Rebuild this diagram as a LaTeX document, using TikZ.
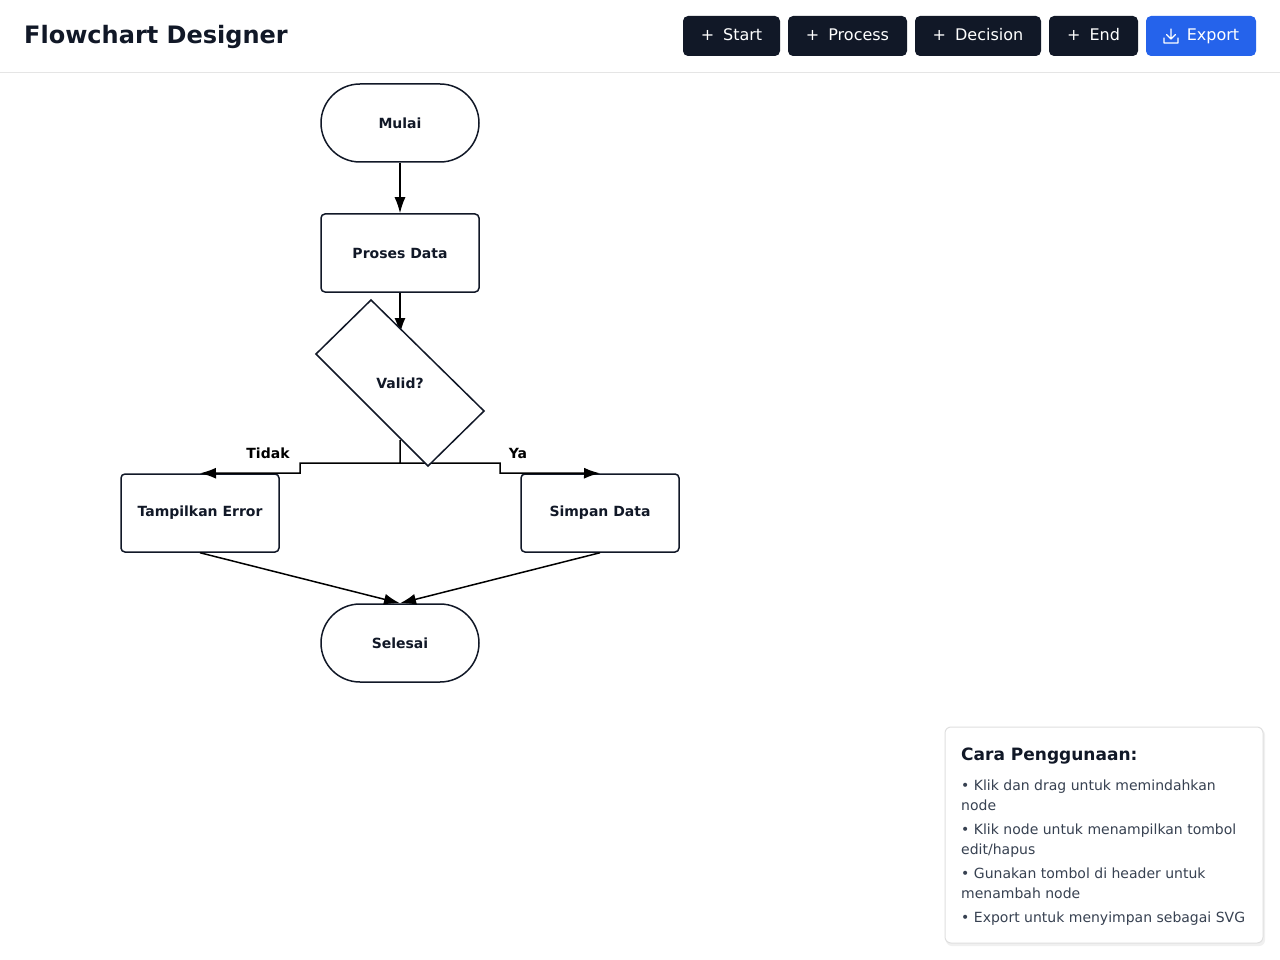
\documentclass[tikz,border=0pt]{standalone}
\usepackage{fontspec}
\setmainfont{DejaVu Sans}
\usetikzlibrary{arrows.meta}
\definecolor{ink}{HTML}{111827}
\definecolor{btn}{HTML}{111827}
\definecolor{blue}{HTML}{2563EB}
\definecolor{txt}{HTML}{374151}
\tikzset{
  term/.style={rectangle,rounded corners=39pt,draw=ink,line width=1.5pt,fill=white,minimum width=158pt,minimum height=78pt,font=\fontsize{14}{16}\selectfont\bfseries,text=ink},
  proc/.style={rectangle,rounded corners=4pt,draw=ink,line width=1.5pt,fill=white,minimum width=158pt,minimum height=78pt,font=\fontsize{14}{16}\selectfont\bfseries,text=ink},
  conn/.style={line width=1.5pt,-{Latex[length=16pt,width=11pt]}},
  lab/.style={font=\fontsize{14}{16}\selectfont\bfseries},
  button/.style={rounded corners=5pt,fill=btn,text=white,minimum height=40pt,text height=12pt,text depth=3pt,font=\fontsize{16}{18}\selectfont,inner sep=0pt},
  help/.style={font=\fontsize{14}{16}\selectfont,text=txt,anchor=base west,inner sep=0pt},
}
\begin{document}
\begin{tikzpicture}[x=1pt,y=-1pt]
\useasboundingbox (0,0) rectangle (1280,960);
\fill[white] (0,0) rectangle (1280,960);
% header
\node[anchor=base west,font=\fontsize{24}{28}\selectfont\bfseries,text=ink,inner sep=0pt] (title) at (24,44) {Flowchart Designer};
\draw[gray!20,line width=1pt] (0,72.5) -- (1280,72.5);
\node[button,minimum width=97pt] (bstart) at (731.5,36) {+\hspace{9pt}Start};
\node[button,minimum width=119pt] (bproc) at (847.5,36) {+\hspace{9pt}Process};
\node[button,minimum width=126pt] (bdec) at (978,36) {+\hspace{9pt}Decision};
\node[button,minimum width=89pt] (bend) at (1093.5,36) {+\hspace{9pt}End};
\node[button,fill=blue,minimum width=110pt] (bexp) at (1201,36) {\hspace{24pt}Export};
\draw[white,line width=1.3pt,line cap=round,line join=round] (1171,29) -- (1171,39) (1166.5,34.5) -- (1171,39) -- (1175.5,34.5) (1164,38) -- (1164,43) -- (1178,43) -- (1178,38);
% nodes
\node[term] (mulai) at (400,123) {Mulai};
\node[proc] (proses) at (400,253) {Proses Data};
\node[proc] (err) at (200,513) {Tampilkan Error};
\node[proc] (simpan) at (600,513) {Simpan Data};
\node[term] (selesai) at (400,643) {Selesai};
\coordinate (dtop) at (400,334);
\coordinate (dbot) at (400,440);
\coordinate (split) at (400,463);
% connectors
\draw[conn] (mulai.south) -- (proses.north);
\draw[conn] (proses.south) -- (dtop);
\draw[conn] (dbot) -- (split) -- (300,463) -- (300,473) -- (err.north);
\draw[conn] (split) -- (500,463) -- (500,473) -- (simpan.north);
\draw[conn] (err.south) -- (selesai.north);
\draw[conn] (simpan.south) -- (selesai.north);
% decision
\filldraw[fill=white,draw=ink,line width=1.5pt,line join=miter] (371,300) -- (484,411) -- (428,466) -- (316,354) -- cycle;
\node[lab,text=ink] (valid) at (400,383) {Valid?};
\node[lab] (tidak) at (268,453) {Tidak};
\node[lab] (ya) at (518,453) {Ya};
% help panel
\fill[black!6,rounded corners=6pt] (946,729) rectangle (1265,946);
\filldraw[fill=white,draw=gray!25,line width=1pt,rounded corners=6pt] (945,727) rectangle (1263,943);
\node[anchor=base west,inner sep=0pt,font=\fontsize{17}{20}\selectfont\bfseries,text=ink] (htitle) at (961,760) {Cara Penggunaan:};
\node[help] (h1) at (961,790) {• Klik dan drag untuk memindahkan};
\node[help] (h1b) at (961,810) {node};
\node[help] (h2) at (961,834) {• Klik node untuk menampilkan tombol};
\node[help] (h2b) at (961,854) {edit/hapus};
\node[help] (h3) at (961,878) {• Gunakan tombol di header untuk};
\node[help] (h3b) at (961,898) {menambah node};
\node[help] (h4) at (961,922) {• Export untuk menyimpan sebagai SVG};
\end{tikzpicture}
\end{document}
